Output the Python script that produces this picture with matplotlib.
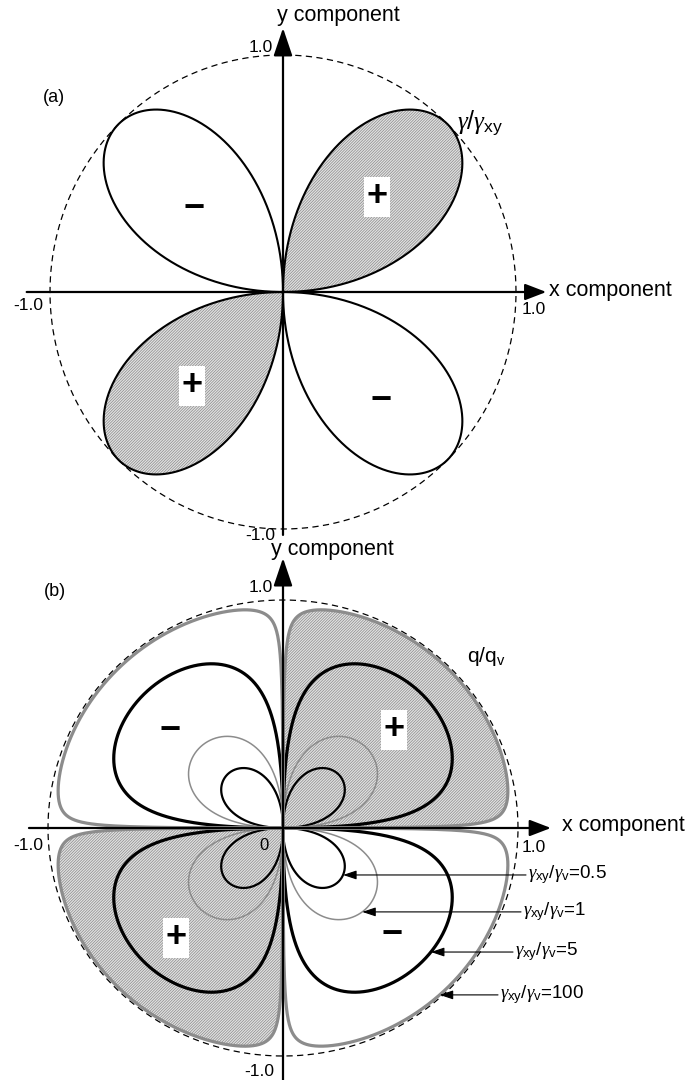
import numpy as np
import matplotlib.pyplot as plt

plt.rcParams['font.family'] = ['Liberation Sans', 'DejaVu Sans']
plt.rcParams['mathtext.fontset'] = 'custom'
plt.rcParams['mathtext.rm'] = 'Liberation Sans'
plt.rcParams['mathtext.it'] = 'Liberation Serif:italic'
plt.rcParams['hatch.linewidth'] = 0.5

W, H = 687, 1080

# gamma_xy / gamma_v ratios shown in panel (b), innermost curve first
ratios = [0.5, 1, 5, 100]
ratio_labels = [r'$\gamma_{\mathrm{xy}}/\gamma_{\mathrm{v}}$=0.5',
                r'$\gamma_{\mathrm{xy}}/\gamma_{\mathrm{v}}$=1',
                r'$\gamma_{\mathrm{xy}}/\gamma_{\mathrm{v}}$=5',
                r'$\gamma_{\mathrm{xy}}/\gamma_{\mathrm{v}}$=100']

# styles / leader positions for the ratio curves
ratio_colors = ['black', '#8c8c8c', 'black', '#8c8c8c']
ratio_lw = [1.6, 1.1, 2.3, 2.3]
leader_y = [-0.206, -0.368, -0.544, -0.732]
label_px = [528, 523, 515, 500]

HATCH_FC = '#e2e2e2'
HATCH_EC = '#8a8a8a'
HATCH = '/' * 12


def rose(t):
    return np.sin(2 * t)


def flux(t, k):
    s = np.sin(2 * t)
    return k * s / (1 + k * np.abs(s))


def fig_xy(px, py):
    return px / W, 1 - py / H


def quadrant(f, q, n=600):
    t = np.linspace(q * np.pi / 2, (q + 1) * np.pi / 2, n)
    r = np.abs(f(t))
    return r * np.cos(t), r * np.sin(t)


def arrow(ax, start, tip, hl, hw, ms=20, lw=1.6, color='k'):
    ax.annotate('', xy=tip, xytext=start,
                arrowprops=dict(arrowstyle='-|>,head_length=%g,head_width=%g' % (hl, hw),
                                mutation_scale=ms, lw=lw, color=color,
                                shrinkA=0, shrinkB=0),
                zorder=10)


def unit_circle(ax):
    t = np.linspace(0, 2 * np.pi, 600)
    ax.plot(np.cos(t), np.sin(t), color='k', lw=0.9, ls=(0, (5, 3.5)), zorder=1)


def sign_text(fig, px, py, s, box):
    kw = dict(fontsize=26, fontweight='bold', ha='center', va='center', zorder=12)
    if box:
        kw['bbox'] = dict(facecolor='white', edgecolor='none', pad=1.5)
    fig.text(*fig_xy(px, py), s, **kw)


fig = plt.figure(figsize=(W / 100, H / 100), dpi=100)

# ---------------- panel (a) ----------------
ax1 = fig.add_axes([0, 0.5, 1, 0.5])
cx, sx, cy, sy = 283, 233, 292, 237
ax1.set_xlim(-cx / sx, (W - cx) / sx)
ax1.set_ylim((cy - 540) / sy, cy / sy)
ax1.axis('off')

unit_circle(ax1)
for q in range(4):
    x, y = quadrant(rose, q)
    if q in (0, 2):
        ax1.fill(x, y, facecolor=HATCH_FC, edgecolor=HATCH_EC, hatch=HATCH, lw=0, zorder=2)
    ax1.plot(x, y, color='k', lw=1.5, zorder=3)

arrow(ax1, (-1.10, 0), (1.13, 0), 0.65, 0.25)
arrow(ax1, (0, -1.025), (0, 1.114), 0.86, 0.29)

fig.text(*fig_xy(277, 15), 'y component', fontsize=15.5, ha='left', va='center')
fig.text(*fig_xy(273, 48), '1.0', fontsize=12.5, ha='right', va='center')
fig.text(*fig_xy(54, 97), '(a)', fontsize=13, ha='center', va='center')
fig.text(*fig_xy(549, 290), 'x component', fontsize=15.5, ha='left', va='center')
fig.text(*fig_xy(13, 305), '-1.0', fontsize=12.5, ha='left', va='center')
fig.text(*fig_xy(522, 309), '1.0', fontsize=12.5, ha='left', va='center')
fig.text(*fig_xy(245, 535), '-1.0', fontsize=12.5, ha='left', va='center')
fig.text(*fig_xy(457, 123), r'$\gamma/\gamma_{\mathrm{xy}}$', fontsize=18, ha='left', va='center')

sign_text(fig, 377, 197, '+', True)
sign_text(fig, 194, 209, '\u2212', False)
sign_text(fig, 192, 386, '+', True)
sign_text(fig, 381, 400, '\u2212', False)

# ---------------- panel (b) ----------------
ax2 = fig.add_axes([0, 0, 1, 0.5])
cx, sx, cy, sy = 283, 235, 828, 228
ax2.set_xlim(-cx / sx, (W - cx) / sx)
ax2.set_ylim((cy - H) / sy, (cy - 540) / sy)
ax2.axis('off')

unit_circle(ax2)
outer = ratios[-1]
for q in (0, 2):
    x, y = quadrant(lambda t: flux(t, outer), q)
    ax2.fill(x, y, facecolor=HATCH_FC, edgecolor=HATCH_EC, hatch=HATCH, lw=0, zorder=2)

for k, c, lw in zip(ratios, ratio_colors, ratio_lw):
    t = np.linspace(0, 2 * np.pi, 4001)
    r = np.abs(flux(t, k))
    ax2.plot(r * np.cos(t), r * np.sin(t), color=c, lw=lw, zorder=3,
             solid_joinstyle='round')

arrow(ax2, (-1.081, 0), (1.14, 0), 0.65, 0.25)
arrow(ax2, (0, -1.2), (0, 1.184), 0.86, 0.29)

# leader arrows from the ratio labels to the outer side of each curve
t4 = np.linspace(-np.pi / 2, 0, 4001)
for k, lab, y0, lx in zip(ratios, ratio_labels, leader_y, label_px):
    r = np.abs(flux(t4, k))
    xs, ys = r * np.cos(t4), r * np.sin(t4)
    d = ys - y0
    idx = np.where(np.sign(d[:-1]) != np.sign(d[1:]))[0]
    xcross = [xs[i] + (xs[i + 1] - xs[i]) * (y0 - ys[i]) / (ys[i + 1] - ys[i]) for i in idx]
    tip_x = max(xcross)
    start_x = (lx - 2 - cx) / sx
    arrow(ax2, (start_x, y0), (tip_x, y0), 0.9, 0.3, ms=9, lw=0.8)
    fig.text(*fig_xy(lx, cy - y0 * sy), lab, fontsize=13.5, ha='left', va='center')

fig.text(*fig_xy(271, 550), 'y component', fontsize=15.5, ha='left', va='center')
fig.text(*fig_xy(273, 588), '1.0', fontsize=12.5, ha='right', va='center')
fig.text(*fig_xy(55, 591), '(b)', fontsize=13, ha='center', va='center')
fig.text(*fig_xy(562, 826), 'x component', fontsize=15.5, ha='left', va='center')
fig.text(*fig_xy(13, 846), '-1.0', fontsize=12.5, ha='left', va='center')
fig.text(*fig_xy(264, 846), '0', fontsize=12, ha='center', va='center')
fig.text(*fig_xy(522, 847), '1.0', fontsize=12.5, ha='left', va='center')
fig.text(*fig_xy(244, 1072), '-1.0', fontsize=12.5, ha='left', va='center')
fig.text(*fig_xy(467, 657), r'q/q$_{\mathrm{v}}$', fontsize=15, ha='left', va='center')

sign_text(fig, 394, 730, '+', True)
sign_text(fig, 170, 730, '\u2212', False)
sign_text(fig, 176, 938, '+', True)
sign_text(fig, 392, 935, '\u2212', False)

fig.savefig('out.png', dpi=100, facecolor='white')
